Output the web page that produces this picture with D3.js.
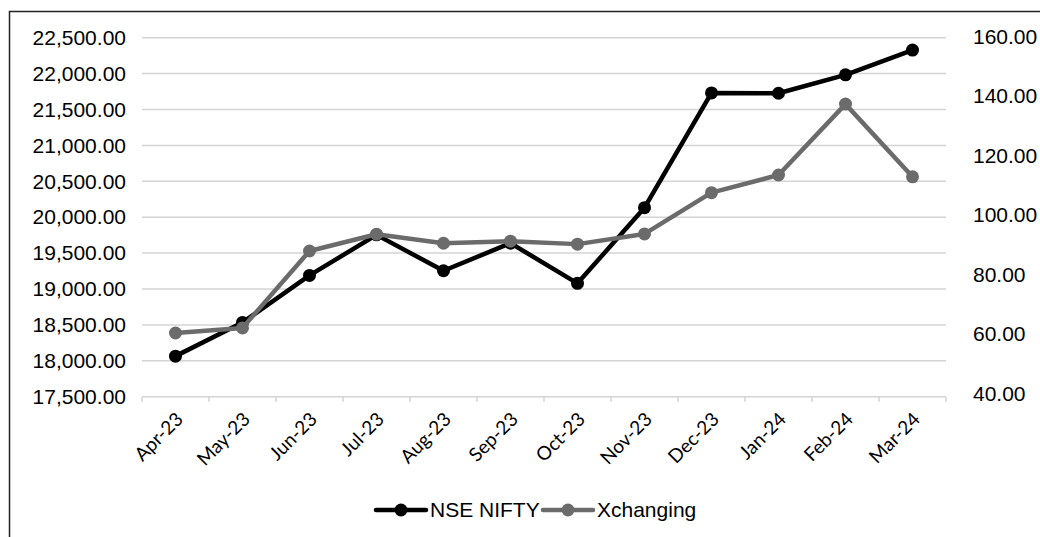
<!DOCTYPE html>
<html><head><meta charset="utf-8">
<script src="https://cdn.jsdelivr.net/npm/d3@7"></script>
<style>body{margin:0;background:#fff}svg{display:block}</style>
</head><body>
<script>
const categories = ["Apr-23","May-23","Jun-23","Jul-23","Aug-23","Sep-23","Oct-23","Nov-23","Dec-23","Jan-24","Feb-24","Mar-24"];
const niftyValues = [18065,18534,19189,19754,19254,19638,19079,20133,21731,21726,21983,22327];
const xchangingValues = [61.3,63.0,88.7,94.3,91.3,92.0,91.0,94.4,108.2,114.1,137.8,113.5];
const leftTicks = [17500,18000,18500,19000,19500,20000,20500,21000,21500,22000,22500];
const rightTicks = [40,60,80,100,120,140,160];
const seriesNames = ["NSE NIFTY","Xchanging"];

(function(){
const W = 1040, H = 537;
const svg = d3.select("body").append("svg").attr("width", W).attr("height", H);
svg.append("rect").attr("x",9.5).attr("y",11.5).attr("width",1200).attr("height",700)
  .attr("fill","none").attr("stroke","#222").attr("stroke-width",1.5);

const pLeft = 142, pRight = 946, pTop = 37.7, pBottom = 396.7;
const x = d3.scaleBand().domain(categories).range([pLeft, pRight]);
const yL = d3.scaleLinear().domain([17500,22500]).range([pBottom, pTop]);
const yR = d3.scaleLinear().domain([40,160]).range([pBottom, pTop]);
const fmt = d3.format(",.2f");

svg.append("g").selectAll("line").data(leftTicks.slice(1)).join("line")
  .attr("x1",pLeft).attr("x2",pRight).attr("y1",d=>yL(d)).attr("y2",d=>yL(d))
  .attr("stroke","#d4d4d4").attr("stroke-width",1.5);

const gL = svg.append("g").attr("transform",`translate(${pLeft},0)`)
  .call(d3.axisLeft(yL).tickValues(leftTicks).tickFormat(fmt).tickSize(0).tickPadding(16));
gL.select(".domain").remove();
gL.selectAll("text").attr("font-family","Liberation Sans, Arial, sans-serif").attr("font-size",21).attr("fill","#000");

const yRaxis = d3.scaleLinear().domain([40,160]).range([pBottom - 3, pTop - 1]);
const gR = svg.append("g").attr("transform",`translate(${pRight},0)`)
  .call(d3.axisRight(yRaxis).tickValues(rightTicks).tickFormat(d3.format(".2f")).tickSize(0).tickPadding(27));
gR.select(".domain").remove();
gR.selectAll("text").attr("font-family","Liberation Sans, Arial, sans-serif").attr("font-size",21).attr("fill","#000");

svg.append("line").attr("x1",pLeft).attr("x2",pRight).attr("y1",pBottom).attr("y2",pBottom)
  .attr("stroke","#d4d4d4").attr("stroke-width",1.5);
const bounds = categories.map(c=>x(c)).concat([pRight]);
svg.append("g").selectAll("line").data(bounds).join("line")
  .attr("x1",d=>d).attr("x2",d=>d).attr("y1",pBottom).attr("y2",pBottom+5)
  .attr("stroke","#d4d4d4").attr("stroke-width",1.5);
svg.append("g").selectAll("text").data(categories).join("text")
  .attr("transform",d=>`translate(${x(d)+x.bandwidth()/2+4},${pBottom+19}) rotate(-45)`)
  .attr("text-anchor","end").attr("dy","0.35em")
  .attr("font-family","Lato, Carlito, sans-serif").attr("font-size",19).attr("fill","#000")
  .text(d=>d);

const series = [
  {name:seriesNames[0], values:niftyValues, y:yL, color:"#000000"},
  {name:seriesNames[1], values:xchangingValues, y:yR, color:"#6b6b6b"}
];
series.forEach(s=>{
  const line = d3.line().x((d,i)=>x(categories[i])+x.bandwidth()/2).y(d=>s.y(d));
  svg.append("path").datum(s.values).attr("d",line).attr("fill","none")
    .attr("stroke",s.color).attr("stroke-width",4.5).attr("stroke-linejoin","round");
  svg.append("g").selectAll("circle").data(s.values).join("circle")
    .attr("cx",(d,i)=>x(categories[i])+x.bandwidth()/2).attr("cy",d=>s.y(d)).attr("r",6.5)
    .attr("fill",s.color);
});

const legendItems = [{name:seriesNames[0],color:"#000",x0:376},{name:seriesNames[1],color:"#6b6b6b",x0:543}];
const lg = svg.append("g");
legendItems.forEach(it=>{
  lg.append("line").attr("x1",it.x0).attr("x2",it.x0+50).attr("y1",510).attr("y2",510)
    .attr("stroke",it.color).attr("stroke-width",4.5).attr("stroke-linecap","round");
  lg.append("circle").attr("cx",it.x0+25).attr("cy",510).attr("r",6.5).attr("fill",it.color);
  lg.append("text").attr("x",it.x0+54).attr("y",510).attr("dy","0.35em")
    .attr("font-family","Liberation Sans, Arial, sans-serif").attr("font-size",21).attr("fill","#000")
    .text(it.name);
});
})();
</script>
</body></html>
